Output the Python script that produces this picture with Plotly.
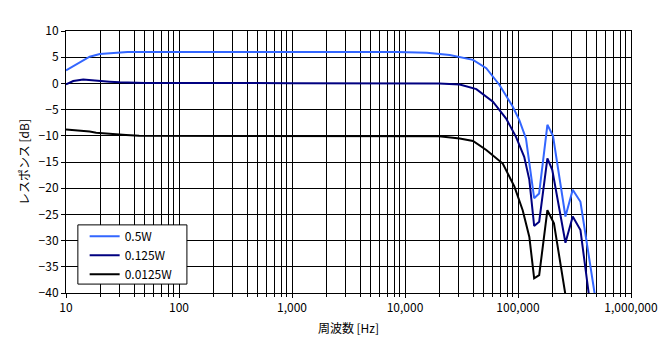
import plotly.graph_objects as go

# ---- data ----
blue_f = [10, 13.3, 16.2, 19.9, 26, 35, 100, 1000, 8500, 15600, 24900, 40000, 52400, 68600,
          89700, 102700, 117600, 139000, 153800, 182000, 204000, 263000, 305000, 357000, 500000]
blue_db = [2.5, 4.0, 5.1, 5.6, 5.85, 6.0, 6.0, 6.0, 6.0, 5.85, 5.4, 4.5, 2.9, -0.3,
           -4.4, -7.0, -10.5, -21.9, -21.0, -7.9, -10.0, -25.4, -20.3, -22.6, -43]

navy_f = [10, 11.6, 14.2, 17.4, 24.3, 29.8, 50, 1000, 10000, 20000, 30500, 42800, 60000, 78500,
          96000, 113500, 126000, 139000, 154000, 182000, 201000, 263000, 305000, 357000, 440000]
navy_db = [-0.2, 0.45, 0.75, 0.55, 0.33, 0.2, 0.1, 0.05, 0.05, 0.0, -0.2, -1.1, -3.5, -6.7,
           -10.2, -14.0, -18.4, -27.2, -26.4, -14.3, -16.5, -30.4, -25.4, -28.0, -43]

black_f = [10, 13.3, 16.2, 18.5, 24.3, 34, 44.4, 100, 1000, 10000, 20000, 30500, 40000, 52400,
           73300, 93000, 110000, 126000, 139000, 154000, 182000, 208000, 280000]
black_db = [-8.8, -9.0, -9.2, -9.4, -9.65, -9.85, -10.0, -10.0, -10.0, -10.0, -10.1, -10.5, -11.0, -12.7,
            -15.3, -19.7, -24.2, -29.3, -37.2, -36.6, -24.2, -26.7, -44]

series_names = ["0.5W", "0.125W", "0.0125W"]
x_tickvals = [10, 100, 1000, 10000, 100000, 1000000]
x_ticktext = ["10", "100", "1,000", "10,000", "100,000", "1,000,000"]
y_tickvals = [10, 5, 0, -5, -10, -15, -20, -25, -30, -35, -40]

minor_vals = [m * d for d in [10, 100, 1000, 10000, 100000] for m in range(2, 10)]

fig = go.Figure()
for f, db, name, col in [(blue_f, blue_db, series_names[0], "#3366ff"),
                         (navy_f, navy_db, series_names[1], "#000080"),
                         (black_f, black_db, series_names[2], "#000000")]:
    fig.add_trace(go.Scatter(x=f, y=db, mode="lines", name=name,
                             line=dict(color=col, width=2), cliponaxis=True))

font_family = "Noto Sans CJK JP, Noto Sans, sans-serif"
fig.update_layout(
    width=670, height=354,
    margin=dict(l=66, r=34, t=31, b=61),
    paper_bgcolor="white", plot_bgcolor="white",
    font=dict(family=font_family, size=11, color="black"),
    showlegend=True,
    legend=dict(x=0.033, y=0.272, xanchor="left", yanchor="top",
                borderwidth=0, bgcolor="rgba(0,0,0,0)",
                font=dict(size=12), itemwidth=30, tracegroupgap=0),
    shapes=[dict(type="rect", xref="paper", yref="paper",
                 x0=0.021, x1=0.214, y0=0.034, y1=0.26,
                 line=dict(color="black", width=1), fillcolor="white", layer="above")],
)
fig.update_xaxes(
    type="log", range=[1, 6],
    tickvals=x_tickvals, ticktext=x_ticktext,
    showgrid=True, gridcolor="black", gridwidth=1,
    minor=dict(tickvals=minor_vals, showgrid=True, gridcolor="black", gridwidth=1,
               ticks="outside", ticklen=3, tickcolor="black"),
    showline=True, linecolor="black", linewidth=1, mirror=True,
    ticks="outside", ticklen=4, tickcolor="black",
    tickfont=dict(size=12),
    title=dict(text="周波数 [Hz]", font=dict(size=12), standoff=10),
    zeroline=False,
)
fig.update_yaxes(
    range=[-40, 10], tickvals=y_tickvals,
    showgrid=True, gridcolor="black", gridwidth=1,
    showline=True, linecolor="black", linewidth=1, mirror=True,
    ticks="outside", ticklen=4, tickcolor="black",
    tickfont=dict(size=12),
    title=dict(text="レスポンス [dB]", font=dict(size=12), standoff=6),
    zeroline=False,
)

fig.write_html("out.html")
